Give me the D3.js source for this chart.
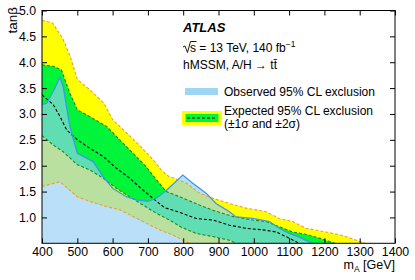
<!DOCTYPE html>
<html>
<head>
<meta charset="utf-8">
<script src="https://cdn.jsdelivr.net/npm/d3@7"></script>
<style>
  body { margin: 0; background: #fff; }
  svg { font-family: "Liberation Sans", Arial, sans-serif; }
</style>
</head>
<body>
<svg id="chart" width="415" height="280"></svg>
<script>
// curves as [mA, tanb]
const obs = [[400, 3.18], [413, 3.21], [432, 3.44], [451, 3.71], [460, 3.53], [479, 2.76], [500, 2.24],
  [517, 2.18], [545, 2.08], [573, 1.79], [601, 1.56], [639, 1.40], [667, 1.34], [700, 1.31], [724, 1.37],
  [752, 1.52], [799, 1.82], [827, 1.66], [865, 1.47], [893, 1.27], [931, 1.11], [950, 1.01], [997, 0.98],
  [1044, 0.92], [1072, 0.79], [1100, 0.69], [1129, 0.62], [1166, 0.5]];
const expMed = [[400, 3.37], [432, 3.18], [451, 2.95], [470, 2.69], [500, 2.5], [535, 2.34], [573, 2.18],
  [611, 1.95], [648, 1.76], [686, 1.53], [714, 1.37], [747, 1.19], [785, 1.11], [837, 0.98], [884, 0.95],
  [931, 0.85], [978, 0.79], [1025, 0.76], [1063, 0.72], [1100, 0.60], [1129, 0.5]];
const up1 = [[400, 3.95], [432, 3.92], [455, 3.85], [479, 3.40], [500, 3.08], [535, 2.95], [583, 2.76],
  [620, 2.5], [658, 2.24], [695, 1.98], [724, 1.73], [752, 1.5], [790, 1.40], [846, 1.24], [884, 1.14],
  [940, 1.02], [997, 0.95], [1035, 0.92], [1072, 0.82], [1110, 0.72], [1150, 0.67], [1190, 0.59], [1230, 0.5]];
const dn1 = [[400, 2.58], [432, 2.40], [460, 2.27], [500, 2.02], [535, 1.92], [573, 1.76], [611, 1.56],
  [648, 1.40], [686, 1.24], [724, 1.08], [761, 0.95], [795, 0.81], [837, 0.69], [884, 0.63], [931, 0.56], [950, 0.5]];
const up2 = [[400, 4.81], [430, 4.76], [460, 4.44], [480, 4.11], [500, 3.67], [535, 3.47], [575, 3.21],
  [600, 2.89], [640, 2.63], [675, 2.40], [714, 2.12], [740, 1.90], [760, 1.79], [790, 1.72], [810, 1.66],
  [846, 1.47], [884, 1.37], [931, 1.27], [978, 1.18], [1035, 1.11], [1072, 0.98], [1110, 0.92], [1148, 0.79],
  [1204, 0.72], [1245, 0.66], [1265, 0.62], [1315, 0.5]];
const dn2 = [[400, 1.60], [451, 1.69], [500, 1.40], [535, 1.31], [583, 1.21], [620, 1.15], [658, 1.02],
  [695, 0.89], [733, 0.76], [771, 0.66], [808, 0.53], [818, 0.5]];

const xTicks = [400, 500, 600, 700, 800, 900, 1000, 1100, 1200, 1300, 1400];
const yTicks = [1.0, 1.5, 2.0, 2.5, 3.0, 3.5, 4.0, 4.5, 5.0];

const L = 42, R = 395, T = 10.5, B = 243.3;
const yMin = 0.5;

const svg = d3.select("#chart");
const x = d3.scaleLinear().domain([400, 1400]).range([L, R]);
const y = d3.scaleLinear().domain([yMin, 5]).range([B, T]);
const line = d3.line().x(d => x(d[0])).y(d => y(d[1]));

svg.append("clipPath").attr("id", "plotclip")
  .append("rect").attr("x", L).attr("y", T).attr("width", R - L).attr("height", B - T);
const plot = svg.append("g").attr("clip-path", "url(#plotclip)");

const blueFill = "rgb(147,208,244)";
const blueAlpha = 0.65;

// bands
plot.append("path").attr("d", line(up2.concat(dn2.slice().reverse())) + "Z").attr("fill", "#ffff00");
plot.append("path").attr("d", line(up1.concat(dn1.slice().reverse())) + "Z").attr("fill", "#00f53a");
// observed exclusion
const obsPoly = obs.concat([[obs[obs.length - 1][0], yMin], [400, yMin]]);
plot.append("path").attr("d", line(obsPoly) + "Z").attr("fill", blueFill).attr("fill-opacity", blueAlpha);

// contour lines
function dashed(data, color) {
  plot.append("path").attr("d", line(data)).attr("fill", "none")
    .attr("stroke", color).attr("stroke-width", 1.1).attr("stroke-dasharray", "3,2");
}
dashed(up2, "#f0a020");
dashed(dn2, "#f0a020");
dashed(up1, "#1f8a1f");
dashed(dn1, "#1f8a1f");
dashed(expMed, "#000");
plot.append("path").attr("d", line(obs)).attr("fill", "none")
  .attr("stroke", "#3a9ae8").attr("stroke-width", 1.3);

// axes, ticks pointing inwards
svg.append("g").attr("transform", `translate(0,${B})`)
  .call(d3.axisBottom(x).tickValues(xTicks).tickSize(-5).tickPadding(4).tickFormat(d3.format("d")));
svg.append("g").attr("transform", `translate(0,${T})`)
  .call(d3.axisTop(x).tickValues(xTicks).tickSize(-5).tickFormat(""));
svg.append("g").attr("transform", `translate(${L},0)`)
  .call(d3.axisLeft(y).tickValues(yTicks).tickSize(-5).tickPadding(6).tickFormat(d3.format(".1f")));
svg.append("g").attr("transform", `translate(${R},0)`)
  .call(d3.axisRight(y).tickValues(yTicks).tickSize(-5).tickFormat(""));
svg.selectAll(".domain").remove();
svg.selectAll(".tick line").attr("stroke", "#000");
svg.selectAll(".tick text").attr("font-size", 12.3).attr("font-family", "Liberation Sans, Arial, sans-serif").attr("fill", "#000");

svg.append("rect").attr("x", L).attr("y", T).attr("width", R - L).attr("height", B - T)
  .attr("fill", "none").attr("stroke", "#000").attr("stroke-width", 1);

// axis titles
svg.append("text").attr("transform", "translate(17,7) rotate(-90)").attr("text-anchor", "end")
  .attr("font-size", 13.5).text("tanβ");
const xt = svg.append("text").attr("x", R).attr("y", 269).attr("text-anchor", "end").attr("font-size", 12.5);
xt.append("tspan").text("m");
xt.append("tspan").attr("font-size", 8.5).attr("dy", 2.5).text("A");
xt.append("tspan").attr("dy", -2.5).text(" [GeV]");

// labels
svg.append("text").attr("x", 183).attr("y", 32).attr("font-size", 13)
  .attr("font-weight", "bold").attr("font-style", "italic").text("ATLAS");
svg.append("path").attr("d", "M183,47 L185,46 L187.5,52.5 L190.5,41.5 L196.5,41.5")
  .attr("fill", "none").attr("stroke", "#000").attr("stroke-width", 0.9);
const en = svg.append("text").attr("x", 190).attr("y", 52).attr("font-size", 12);
en.append("tspan").text("s = 13 TeV, 140 fb");
en.append("tspan").attr("font-size", 8.5).attr("dy", -5).text("−1");
svg.append("text").attr("x", 183).attr("y", 69).attr("font-size", 12).text("hMSSM, A/H → tt\u0304");

// legend
svg.append("rect").attr("x", 185).attr("y", 88).attr("width", 33).attr("height", 7)
  .attr("fill", blueFill).attr("fill-opacity", 0.9);
svg.append("text").attr("x", 224).attr("y", 96).attr("font-size", 12).text("Observed 95% CL exclusion");
svg.append("rect").attr("x", 182).attr("y", 111).attr("width", 40).attr("height", 14).attr("fill", "#ffff00");
svg.append("rect").attr("x", 185.5).attr("y", 114).attr("width", 33).attr("height", 8).attr("fill", "#00f53a");
svg.append("line").attr("x1", 187).attr("x2", 217).attr("y1", 118).attr("y2", 118)
  .attr("stroke", "#000").attr("stroke-width", 1.1).attr("stroke-dasharray", "3,2");
svg.append("text").attr("x", 224).attr("y", 114.5).attr("font-size", 12).text("Expected 95% CL exclusion");
svg.append("text").attr("x", 224).attr("y", 128).attr("font-size", 12).text("(±1σ and ±2σ)");
</script>
</body>
</html>
